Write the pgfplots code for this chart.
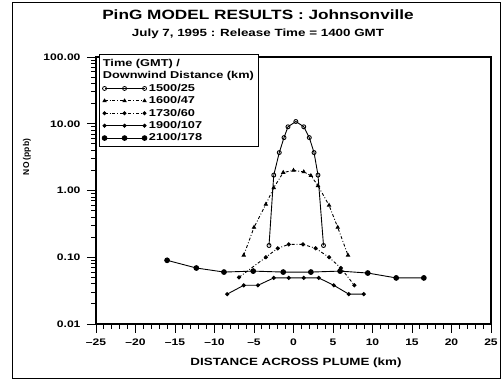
\documentclass[border=0pt]{standalone}
\usepackage{pgfplots}
\pgfplotsset{compat=1.18}
\usepackage{fontspec}
\setmainfont{Liberation Sans}
\newfontfamily\wfont[FakeStretch=1.28]{Liberation Sans}
\begin{document}
\begin{tikzpicture}
\path[use as bounding box] (0bp,0bp) rectangle (502bp,380bp);
\draw[line width=0.9pt] (12bp,2bp) rectangle (500bp,378bp);
\node[font=\wfont\bfseries\fontsize{13.5}{15}\selectfont] at (258bp,365bp) {PinG MODEL RESULTS : Johnsonville};
\node[font=\wfont\bfseries\fontsize{10.5}{12}\selectfont] at (258bp,346bp) {July 7, 1995 : Release Time = 1400 GMT};
\node[font=\bfseries\fontsize{8.5}{10}\selectfont, rotate=90] at (27bp,223bp) {NO (ppb)};
\node[font=\wfont\bfseries\fontsize{10.5}{12}\selectfont] at (296bp,17bp) {DISTANCE ACROSS PLUME (km)};
\begin{axis}[
  at={(96bp,56bp)}, anchor=south west, scale only axis,
  width=395bp, height=267bp,
  xmin=-25, xmax=25, ymode=log, ymin=0.01, ymax=100,
  xtick={-25,-20,...,25},
  xticklabels={\textendash25,\textendash20,\textendash15,\textendash10,\textendash5,0,5,10,15,20,25},
  minor x tick num=4,
  ytick={0.01,0.1,1,10,100},
  yticklabels={0.01,0.10,1.00,10.00,100.00},
  tick align=outside, tick pos=left,
  major tick length=9bp, minor tick length=5bp,
  ticklabel style={font=\wfont\bfseries\fontsize{9.5}{10}\selectfont},
  xticklabel style={yshift=-2bp},
  yticklabel style={xshift=-3bp},
  axis line style={line width=1.1pt},
  every tick/.style={black, line width=0.9pt},
  legend style={at={(0.008,1.01)}, anchor=north west, draw=black, line width=1pt,
    font=\wfont\bfseries\fontsize{10}{11}\selectfont, cells={anchor=west}, row sep=-0.3pt, inner sep=2.5bp},
  legend image code/.code={\draw[#1, line width=0.8pt] plot coordinates {(0bp,0bp)(20bp,0bp)(40bp,0bp)};},
]
\addlegendimage{empty legend}
\addlegendentry{\hspace{-46bp}Time (GMT) /}
\addlegendimage{empty legend}
\addlegendentry{\hspace{-46bp}Downwind Distance (km)\rule[-5bp]{0pt}{1bp}}

\addplot[black, line width=0.9pt, mark=o, mark size=2pt, mark options={solid, fill=white}] coordinates {
(-3.1,0.15) (-2.5,1.7) (-1.8,3.7) (-1.2,6.2) (-0.7,9.0) (0.3,10.8) (1.3,9.0) (2.0,6.2) (2.6,3.7) (3.1,1.7) (3.8,0.15)};
\addlegendentry{1500/25}

\addplot[black, line width=0.9pt, dash dot, mark=triangle*, mark size=1.8pt, mark options={solid}] coordinates {
(-6.3,0.107) (-5.0,0.28) (-3.5,0.62) (-2.5,1.1) (-1.3,1.86) (0,2.0) (1.3,1.9) (2.2,1.67) (3.1,1.18) (4.5,0.6) (5.6,0.28) (6.9,0.107)};
\addlegendentry{1600/47}

\addplot[black, line width=0.9pt, dash dot, mark=*, mark size=1.6pt, mark options={solid}] coordinates {
(-6.9,0.05) (-3.5,0.10) (-2.0,0.136) (-0.6,0.156) (1.2,0.156) (2.8,0.136) (4.5,0.10) (6.0,0.069) (7.7,0.038)};
\addlegendentry{1730/60}

\addplot[black, line width=0.9pt, mark=*, mark size=1.6pt] coordinates {
(-8.4,0.028) (-6.3,0.038) (-4.5,0.038) (-2.5,0.049) (-0.6,0.049) (1.3,0.049) (3.2,0.049) (5.1,0.038) (7.0,0.028) (8.9,0.028)};
\addlegendentry{1900/107}

\addplot[black, line width=0.9pt, mark=*, mark size=2.4pt] coordinates {
(-16.0,0.090) (-12.3,0.069) (-8.8,0.060) (-5.1,0.062) (-1.3,0.060) (2.2,0.060) (5.9,0.062) (9.4,0.058) (13.0,0.049) (16.5,0.049)};
\addlegendentry{2100/178}
\end{axis}
\end{tikzpicture}
\end{document}
